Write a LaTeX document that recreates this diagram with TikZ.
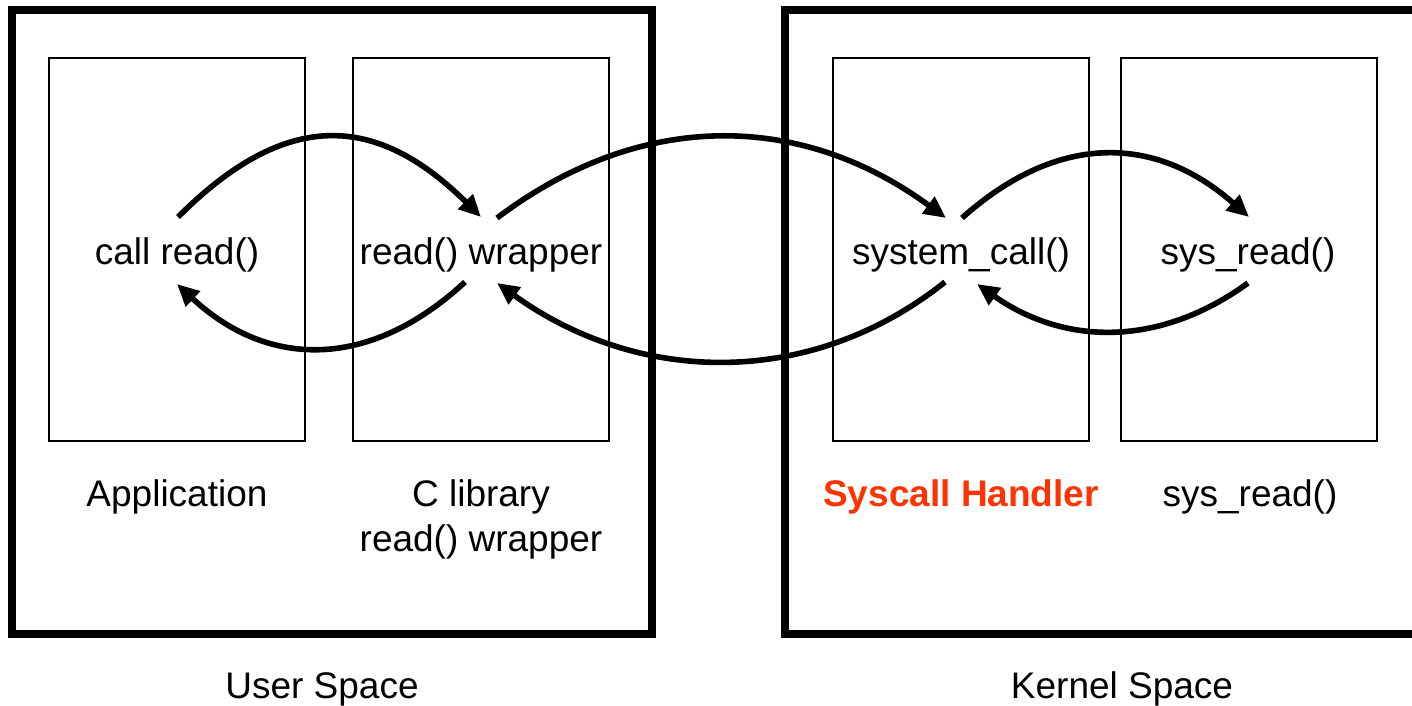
\documentclass[tikz,border=0pt]{standalone}
\usepackage{fontspec}
\setmainfont{Liberation Sans}
\usetikzlibrary{arrows.meta}
\definecolor{handlercol}{RGB}{255,51,0}
\begin{document}
\begin{tikzpicture}[x=1pt,y=-1pt,
  outerbox/.style={draw, line width=8pt},
  innerbox/.style={draw, line width=1.8pt, minimum width=256pt, minimum height=383pt, inner sep=0pt},
  lbl/.style={font=\fontsize{37}{45}\selectfont, inner sep=0pt, align=center},
  flow/.style={line width=5.6pt, -{Triangle[length=22pt,width=20pt]}}]
\useasboundingbox (0,0) rectangle (1412,706);
\clip (0,0) rectangle (1412,706);
% outer boxes
\draw[outerbox] (12,10) rectangle (652,634);
\draw[outerbox] (785,10) rectangle (1440,634);
% inner boxes
\node[innerbox] (app) at (177,249.5) {};
\node[innerbox] (clib) at (481,249.5) {};
\node[innerbox] (sch) at (961,249.5) {};
\node[innerbox] (sysr) at (1249,249.5) {};
% texts inside
\node[lbl] (tapp) at (177,255) {call read()};
\node[lbl] (tclib) at (481,255) {read() wrapper};
\node[lbl] (tsch) at (961,255) {system\_call()};
\node[lbl] (tsysr) at (1248,255) {sys\_read()};
% captions
\node[lbl] (capp) at (177,497) {Application};
\node[lbl] (cclib) at (481,519) {C library\\read() wrapper};
\node[lbl, text=handlercol, font=\fontsize{37}{45}\selectfont\bfseries] (csch) at (961,497) {Syscall Handler};
\node[lbl] (csysr) at (1250,497) {sys\_read()};
\node[lbl] (user) at (322,689) {User Space};
\node[lbl] (kernel) at (1122,689) {Kernel Space};
% arrow end points
\coordinate (a1s) at (178,217);
\coordinate (a1e) at (481,217);
\coordinate (a2s) at (465,282);
\coordinate (a2e) at (177,284);
\coordinate (a3s) at (497,218);
\coordinate (a3e) at (946,218);
\coordinate (a4s) at (945,282);
\coordinate (a4e) at (497,283);
\coordinate (a5s) at (962,218);
\coordinate (a5e) at (1249,217);
\coordinate (a6s) at (1248,283);
\coordinate (a6e) at (977,284);
% arrows
\draw[flow] (a1s) .. controls (285,110) and (375,112) .. (a1e);
\draw[flow] (a2s) .. controls (370,370) and (268,369) .. (a2e);
\draw[flow] (a3s) .. controls (640,110) and (800,111) .. (a3e);
\draw[flow] (a4s) .. controls (812,388) and (640,386) .. (a4e);
\draw[flow] (a5s) .. controls (1057,133) and (1155,134) .. (a5e);
\draw[flow] (a6s) .. controls (1160,347) and (1065,346) .. (a6e);
\end{tikzpicture}
\end{document}
